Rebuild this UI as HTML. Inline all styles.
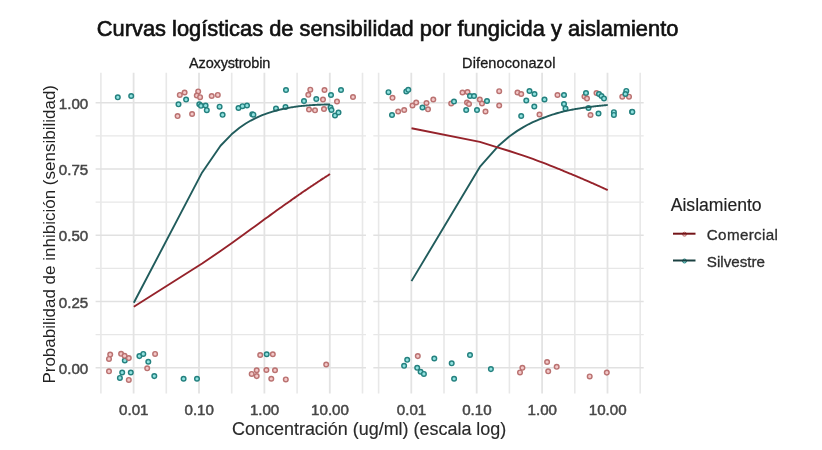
<!DOCTYPE html><html><head><meta charset="utf-8"><style>html,body{margin:0;padding:0;background:#fff;}svg{display:block;filter:blur(0.35px);}text{font-family:"Liberation Sans",Arial,sans-serif;}</style></head><body>
<svg width="822" height="450" viewBox="0 0 822 450">
<rect width="822" height="450" fill="#fff"/>
<line x1="95.6" y1="334.6" x2="366.0" y2="334.6" stroke="#E7E7E7" stroke-width="1.2"/><line x1="95.6" y1="268.4" x2="366.0" y2="268.4" stroke="#E7E7E7" stroke-width="1.2"/><line x1="95.6" y1="202.1" x2="366.0" y2="202.1" stroke="#E7E7E7" stroke-width="1.2"/><line x1="95.6" y1="135.9" x2="366.0" y2="135.9" stroke="#E7E7E7" stroke-width="1.2"/><line x1="100.9" y1="72.7" x2="100.9" y2="393.5" stroke="#E8E8E8" stroke-width="1.6"/><line x1="166.3" y1="72.7" x2="166.3" y2="393.5" stroke="#E8E8E8" stroke-width="1.6"/><line x1="231.7" y1="72.7" x2="231.7" y2="393.5" stroke="#E8E8E8" stroke-width="1.6"/><line x1="297.1" y1="72.7" x2="297.1" y2="393.5" stroke="#E8E8E8" stroke-width="1.6"/><line x1="362.5" y1="72.7" x2="362.5" y2="393.5" stroke="#E8E8E8" stroke-width="1.6"/><line x1="95.6" y1="367.7" x2="366.0" y2="367.7" stroke="#E1E1E1" stroke-width="1.5"/><line x1="95.6" y1="301.5" x2="366.0" y2="301.5" stroke="#E1E1E1" stroke-width="1.5"/><line x1="95.6" y1="235.2" x2="366.0" y2="235.2" stroke="#E1E1E1" stroke-width="1.5"/><line x1="95.6" y1="169.0" x2="366.0" y2="169.0" stroke="#E1E1E1" stroke-width="1.5"/><line x1="95.6" y1="102.8" x2="366.0" y2="102.8" stroke="#E1E1E1" stroke-width="1.5"/><line x1="133.6" y1="72.7" x2="133.6" y2="393.5" stroke="#E3E3E3" stroke-width="1.8"/><line x1="199.0" y1="72.7" x2="199.0" y2="393.5" stroke="#E3E3E3" stroke-width="1.8"/><line x1="264.4" y1="72.7" x2="264.4" y2="393.5" stroke="#E3E3E3" stroke-width="1.8"/><line x1="329.8" y1="72.7" x2="329.8" y2="393.5" stroke="#E3E3E3" stroke-width="1.8"/>
<line x1="373.3" y1="334.6" x2="643.7" y2="334.6" stroke="#E7E7E7" stroke-width="1.2"/><line x1="373.3" y1="268.4" x2="643.7" y2="268.4" stroke="#E7E7E7" stroke-width="1.2"/><line x1="373.3" y1="202.1" x2="643.7" y2="202.1" stroke="#E7E7E7" stroke-width="1.2"/><line x1="373.3" y1="135.9" x2="643.7" y2="135.9" stroke="#E7E7E7" stroke-width="1.2"/><line x1="378.6" y1="72.7" x2="378.6" y2="393.5" stroke="#E8E8E8" stroke-width="1.6"/><line x1="444.0" y1="72.7" x2="444.0" y2="393.5" stroke="#E8E8E8" stroke-width="1.6"/><line x1="509.4" y1="72.7" x2="509.4" y2="393.5" stroke="#E8E8E8" stroke-width="1.6"/><line x1="574.8" y1="72.7" x2="574.8" y2="393.5" stroke="#E8E8E8" stroke-width="1.6"/><line x1="640.2" y1="72.7" x2="640.2" y2="393.5" stroke="#E8E8E8" stroke-width="1.6"/><line x1="373.3" y1="367.7" x2="643.7" y2="367.7" stroke="#E1E1E1" stroke-width="1.5"/><line x1="373.3" y1="301.5" x2="643.7" y2="301.5" stroke="#E1E1E1" stroke-width="1.5"/><line x1="373.3" y1="235.2" x2="643.7" y2="235.2" stroke="#E1E1E1" stroke-width="1.5"/><line x1="373.3" y1="169.0" x2="643.7" y2="169.0" stroke="#E1E1E1" stroke-width="1.5"/><line x1="373.3" y1="102.8" x2="643.7" y2="102.8" stroke="#E1E1E1" stroke-width="1.5"/><line x1="411.3" y1="72.7" x2="411.3" y2="393.5" stroke="#E3E3E3" stroke-width="1.8"/><line x1="476.7" y1="72.7" x2="476.7" y2="393.5" stroke="#E3E3E3" stroke-width="1.8"/><line x1="542.1" y1="72.7" x2="542.1" y2="393.5" stroke="#E3E3E3" stroke-width="1.8"/><line x1="607.5" y1="72.7" x2="607.5" y2="393.5" stroke="#E3E3E3" stroke-width="1.8"/>
<g fill="#F3C8C8" stroke="#BA7271" stroke-width="1.45"><circle cx="179.8" cy="94.9" r="2.3"/><circle cx="184.6" cy="92.5" r="2.3"/><circle cx="198.2" cy="91.4" r="2.3"/><circle cx="196.8" cy="95.5" r="2.3"/><circle cx="200.1" cy="97.2" r="2.3"/><circle cx="211.7" cy="96" r="2.3"/><circle cx="217.8" cy="94.9" r="2.3"/><circle cx="177.6" cy="116.1" r="2.3"/><circle cx="192.1" cy="114" r="2.3"/><circle cx="310.3" cy="89.7" r="2.3"/><circle cx="308.3" cy="94.8" r="2.3"/><circle cx="309" cy="109.5" r="2.3"/><circle cx="315" cy="110.3" r="2.3"/><circle cx="324.5" cy="90" r="2.3"/><circle cx="323" cy="99.5" r="2.3"/><circle cx="324" cy="109" r="2.3"/><circle cx="337" cy="101.5" r="2.3"/><circle cx="353" cy="97" r="2.3"/><circle cx="110.2" cy="354.6" r="2.3"/><circle cx="109" cy="358.9" r="2.3"/><circle cx="121.1" cy="353.8" r="2.3"/><circle cx="109" cy="371.3" r="2.3"/><circle cx="147.2" cy="368.3" r="2.3"/><circle cx="155.1" cy="353.9" r="2.3"/><circle cx="128.8" cy="379.9" r="2.3"/><circle cx="260.2" cy="355" r="2.3"/><circle cx="256.7" cy="370.2" r="2.3"/><circle cx="251.7" cy="373.9" r="2.3"/><circle cx="256.7" cy="376.1" r="2.3"/><circle cx="266.4" cy="370" r="2.3"/><circle cx="275" cy="370.2" r="2.3"/><circle cx="271.3" cy="378.7" r="2.3"/><circle cx="285.8" cy="379.4" r="2.3"/><circle cx="326.2" cy="364.5" r="2.3"/><circle cx="392.5" cy="97.8" r="2.3"/><circle cx="398.2" cy="111.5" r="2.3"/><circle cx="404.2" cy="110" r="2.3"/><circle cx="412.5" cy="105.5" r="2.3"/><circle cx="416.2" cy="102.5" r="2.3"/><circle cx="426.5" cy="103" r="2.3"/><circle cx="428" cy="109.3" r="2.3"/><circle cx="433.3" cy="99.5" r="2.3"/><circle cx="451.2" cy="103.5" r="2.3"/><circle cx="462.5" cy="92.5" r="2.3"/><circle cx="467.5" cy="92" r="2.3"/><circle cx="467" cy="102.5" r="2.3"/><circle cx="469" cy="104" r="2.3"/><circle cx="479.8" cy="99.5" r="2.3"/><circle cx="482" cy="103.5" r="2.3"/><circle cx="485.5" cy="111.5" r="2.3"/><circle cx="499.2" cy="91.2" r="2.3"/><circle cx="499.2" cy="105.5" r="2.3"/><circle cx="517.5" cy="92.5" r="2.3"/><circle cx="521.2" cy="94" r="2.3"/><circle cx="557.5" cy="95" r="2.3"/><circle cx="539.5" cy="114.5" r="2.3"/><circle cx="584.5" cy="96.5" r="2.3"/><circle cx="596.5" cy="93" r="2.3"/><circle cx="590.5" cy="115" r="2.3"/><circle cx="622.3" cy="96.7" r="2.3"/><circle cx="629" cy="96.7" r="2.3"/><circle cx="417.8" cy="356.1" r="2.3"/><circle cx="522.4" cy="367.8" r="2.3"/><circle cx="520" cy="372.4" r="2.3"/><circle cx="547.1" cy="362" r="2.3"/><circle cx="556.7" cy="366.8" r="2.3"/><circle cx="548.2" cy="371.3" r="2.3"/><circle cx="589.7" cy="376.4" r="2.3"/><circle cx="606.8" cy="372.6" r="2.3"/></g>
<g fill="#92E2E0" stroke="#24817F" stroke-width="1.45"><circle cx="117.8" cy="97.3" r="2.3"/><circle cx="131.2" cy="96.0" r="2.3"/><circle cx="178.5" cy="104.3" r="2.3"/><circle cx="186.1" cy="99.6" r="2.3"/><circle cx="199.3" cy="104.3" r="2.3"/><circle cx="201" cy="105.8" r="2.3"/><circle cx="205.6" cy="105.5" r="2.3"/><circle cx="206.8" cy="110.2" r="2.3"/><circle cx="219.6" cy="106.7" r="2.3"/><circle cx="222.6" cy="114.8" r="2.3"/><circle cx="238.5" cy="108" r="2.3"/><circle cx="242.5" cy="106.2" r="2.3"/><circle cx="247" cy="105.5" r="2.3"/><circle cx="252.3" cy="114.2" r="2.3"/><circle cx="253.4" cy="114.7" r="2.3"/><circle cx="276" cy="108.5" r="2.3"/><circle cx="285.5" cy="107" r="2.3"/><circle cx="286" cy="90" r="2.3"/><circle cx="304" cy="101" r="2.3"/><circle cx="316.3" cy="99" r="2.3"/><circle cx="331" cy="95" r="2.3"/><circle cx="341" cy="90" r="2.3"/><circle cx="330.5" cy="107.5" r="2.3"/><circle cx="331.5" cy="110" r="2.3"/><circle cx="335" cy="115.5" r="2.3"/><circle cx="338.5" cy="112.5" r="2.3"/><circle cx="124.8" cy="360.5" r="2.3"/><circle cx="139.4" cy="356.1" r="2.3"/><circle cx="143.3" cy="353.9" r="2.3"/><circle cx="148.3" cy="361.7" r="2.3"/><circle cx="122.2" cy="372.5" r="2.3"/><circle cx="119.9" cy="377.9" r="2.3"/><circle cx="130.8" cy="372.5" r="2.3"/><circle cx="154.3" cy="376.1" r="2.3"/><circle cx="183.6" cy="378.7" r="2.3"/><circle cx="197" cy="378.7" r="2.3"/><circle cx="266.7" cy="354.2" r="2.3"/><circle cx="388.5" cy="92.2" r="2.3"/><circle cx="406.3" cy="91.4" r="2.3"/><circle cx="408.3" cy="89.8" r="2.3"/><circle cx="392" cy="115" r="2.3"/><circle cx="422.5" cy="107.5" r="2.3"/><circle cx="454" cy="101.5" r="2.3"/><circle cx="470" cy="96" r="2.3"/><circle cx="474" cy="96" r="2.3"/><circle cx="466.2" cy="110" r="2.3"/><circle cx="477" cy="110" r="2.3"/><circle cx="487" cy="101" r="2.3"/><circle cx="526.3" cy="100.5" r="2.3"/><circle cx="529.5" cy="91" r="2.3"/><circle cx="534.5" cy="94" r="2.3"/><circle cx="534.3" cy="106.5" r="2.3"/><circle cx="521.2" cy="116" r="2.3"/><circle cx="544.5" cy="99.5" r="2.3"/><circle cx="564" cy="95" r="2.3"/><circle cx="564" cy="104" r="2.3"/><circle cx="565.5" cy="108.5" r="2.3"/><circle cx="586" cy="93" r="2.3"/><circle cx="599" cy="94" r="2.3"/><circle cx="601.5" cy="96" r="2.3"/><circle cx="604" cy="98.5" r="2.3"/><circle cx="588.5" cy="108" r="2.3"/><circle cx="598.5" cy="113.5" r="2.3"/><circle cx="613.9" cy="112.2" r="2.3"/><circle cx="613.9" cy="114.9" r="2.3"/><circle cx="626.3" cy="90.9" r="2.3"/><circle cx="625.4" cy="94" r="2.3"/><circle cx="632.1" cy="111.8" r="2.3"/><circle cx="632.3" cy="111.9" r="2.3"/><circle cx="407.2" cy="359.8" r="2.3"/><circle cx="404.1" cy="365.8" r="2.3"/><circle cx="417.2" cy="367.8" r="2.3"/><circle cx="420.6" cy="371.7" r="2.3"/><circle cx="423.9" cy="373.9" r="2.3"/><circle cx="434.3" cy="358.5" r="2.3"/><circle cx="451.7" cy="363.3" r="2.3"/><circle cx="470" cy="355" r="2.3"/><circle cx="454.1" cy="378.7" r="2.3"/><circle cx="490.9" cy="369.1" r="2.3"/></g>
<g fill="#F3C8C8" stroke="#BA7271" stroke-width="1.45"><circle cx="272.8" cy="354.2" r="2.3"/><circle cx="587" cy="98.5" r="2.3"/><circle cx="128.8" cy="358.1" r="2.3"/><circle cx="124.6" cy="355.8" r="2.3"/></g>
<polyline points="133.80,302.80 202.14,172.43 220.52,145.78 231.58,134.34 239.53,127.80 245.73,123.54 250.81,120.54 255.13,118.30 258.87,116.56 262.18,115.16 265.14,114.03 267.82,113.08 270.27,112.28 272.52,111.59 274.61,110.99 276.56,110.47 278.38,110.01 280.09,109.60 281.71,109.23 283.24,108.90 284.68,108.59 286.06,108.32 287.38,108.07 288.64,107.84 289.84,107.62 290.99,107.43 292.10,107.25 293.17,107.08 294.20,106.92 295.19,106.77 296.15,106.63 297.08,106.50 297.98,106.38 298.85,106.27 299.70,106.16 300.52,106.07 301.32,105.99 302.09,105.91 302.85,105.84 303.58,105.77 304.30,105.70 305.00,105.64 305.68,105.58 306.35,105.53 307.00,105.47 307.64,105.42 308.26,105.38 308.87,105.33 309.47,105.29 310.05,105.24 310.63,105.20 311.19,105.17 311.74,105.13 312.28,105.09 312.81,105.06 313.33,105.03 313.84,105.00 314.34,104.97 314.83,104.94 315.32,104.91 315.80,104.89 316.26,104.86 316.72,104.84 317.18,104.81 317.63,104.79 318.06,104.77 318.50,104.75 318.92,104.74 319.34,104.72 319.76,104.71 320.17,104.69 320.57,104.68 320.97,104.67 321.36,104.66 321.74,104.64 322.12,104.63 322.50,104.62 322.87,104.61 323.24,104.60 323.60,104.59 323.95,104.58 324.31,104.57 324.65,104.56 325.00,104.56 325.34,104.55 325.67,104.54 326.01,104.53 326.33,104.53 326.66,104.52 326.98,104.51 327.30,104.51 327.61,104.50 327.92,104.50 328.23,104.49 328.53,104.48 328.83,104.48 329.13,104.47 329.42,104.47 329.71,104.47 330.00,104.46" fill="none" stroke="#215C5C" stroke-width="1.9" stroke-linejoin="round" stroke-linecap="butt"/>
<polyline points="133.80,306.70 202.14,263.53 220.52,251.02 231.58,243.29 239.53,237.50 245.73,232.98 250.81,229.28 255.13,226.15 258.87,223.44 262.18,221.04 265.14,218.86 267.82,216.90 270.27,215.12 272.52,213.48 274.61,211.97 276.56,210.57 278.38,209.27 280.09,208.05 281.71,206.90 283.24,205.82 284.68,204.80 286.06,203.83 287.38,202.91 288.64,202.04 289.84,201.20 290.99,200.38 292.10,199.59 293.17,198.83 294.20,198.10 295.19,197.39 296.15,196.72 297.08,196.07 297.98,195.44 298.85,194.83 299.70,194.24 300.52,193.67 301.32,193.12 302.09,192.58 302.85,192.06 303.58,191.55 304.30,191.06 305.00,190.59 305.68,190.12 306.35,189.67 307.00,189.23 307.64,188.79 308.26,188.37 308.87,187.96 309.47,187.56 310.05,187.17 310.63,186.79 311.19,186.41 311.74,186.05 312.28,185.69 312.81,185.34 313.33,184.99 313.84,184.66 314.34,184.33 314.83,184.00 315.32,183.68 315.80,183.36 316.26,183.04 316.72,182.73 317.18,182.42 317.63,182.12 318.06,181.83 318.50,181.54 318.92,181.26 319.34,180.98 319.76,180.70 320.17,180.43 320.57,180.16 320.97,179.90 321.36,179.64 321.74,179.39 322.12,179.14 322.50,178.89 322.87,178.65 323.24,178.41 323.60,178.17 323.95,177.94 324.31,177.71 324.65,177.48 325.00,177.26 325.34,177.04 325.67,176.82 326.01,176.61 326.33,176.39 326.66,176.19 326.98,175.98 327.30,175.78 327.61,175.57 327.92,175.38 328.23,175.18 328.53,174.99 328.83,174.79 329.13,174.60 329.42,174.42 329.71,174.23 330.00,174.05" fill="none" stroke="#95222A" stroke-width="1.9" stroke-linejoin="round" stroke-linecap="butt"/>
<polyline points="411.50,281.12 479.84,166.92 498.22,146.06 509.28,136.49 517.23,130.87 523.43,127.07 528.51,124.29 532.83,122.18 536.57,120.51 539.88,119.14 542.84,118.01 545.52,117.04 547.97,116.15 550.22,115.38 552.31,114.69 554.26,114.08 556.08,113.53 557.79,113.03 559.41,112.58 560.94,112.17 562.38,111.79 563.76,111.44 565.08,111.11 566.34,110.84 567.54,110.58 568.69,110.34 569.80,110.12 570.87,109.91 571.90,109.71 572.89,109.53 573.85,109.35 574.78,109.18 575.68,109.03 576.55,108.88 577.40,108.73 578.22,108.60 579.02,108.47 579.79,108.34 580.55,108.22 581.28,108.11 582.00,108.00 582.70,107.90 583.38,107.80 584.05,107.70 584.70,107.60 585.34,107.51 585.96,107.43 586.57,107.34 587.17,107.26 587.75,107.18 588.33,107.11 588.89,107.03 589.44,106.96 589.98,106.89 590.51,106.83 591.03,106.76 591.54,106.70 592.04,106.64 592.53,106.58 593.02,106.52 593.50,106.46 593.96,106.41 594.42,106.36 594.88,106.30 595.33,106.25 595.76,106.20 596.20,106.15 596.62,106.11 597.04,106.06 597.46,106.02 597.87,105.97 598.27,105.93 598.67,105.89 599.06,105.84 599.44,105.80 599.82,105.76 600.20,105.73 600.57,105.69 600.94,105.65 601.30,105.61 601.65,105.58 602.01,105.54 602.35,105.51 602.70,105.47 603.04,105.44 603.37,105.41 603.71,105.38 604.03,105.35 604.36,105.31 604.68,105.28 605.00,105.25 605.31,105.23 605.62,105.20 605.93,105.17 606.23,105.14 606.53,105.11 606.83,105.09 607.12,105.06 607.41,105.03 607.70,105.01" fill="none" stroke="#215C5C" stroke-width="1.9" stroke-linejoin="round" stroke-linecap="butt"/>
<polyline points="411.50,128.28 479.84,141.86 498.22,147.68 509.28,151.03 517.23,153.54 523.43,155.63 528.51,157.42 532.83,158.97 536.57,160.34 539.88,161.57 542.84,162.68 545.52,163.71 547.97,164.66 550.22,165.54 552.31,166.37 554.26,167.14 556.08,167.87 557.79,168.56 559.41,169.22 560.94,169.84 562.38,170.44 563.76,171.01 565.08,171.55 566.34,172.08 567.54,172.58 568.69,173.07 569.80,173.53 570.87,173.98 571.90,174.40 572.89,174.81 573.85,175.21 574.78,175.60 575.68,175.98 576.55,176.34 577.40,176.70 578.22,177.04 579.02,177.38 579.79,177.71 580.55,178.03 581.28,178.35 582.00,178.65 582.70,178.95 583.38,179.25 584.05,179.53 584.70,179.81 585.34,180.09 585.96,180.36 586.57,180.62 587.17,180.88 587.75,181.14 588.33,181.39 588.89,181.63 589.44,181.87 589.98,182.11 590.51,182.34 591.03,182.57 591.54,182.80 592.04,183.02 592.53,183.24 593.02,183.45 593.50,183.66 593.96,183.87 594.42,184.08 594.88,184.28 595.33,184.48 595.76,184.67 596.20,184.87 596.62,185.06 597.04,185.25 597.46,185.43 597.87,185.62 598.27,185.80 598.67,185.98 599.06,186.15 599.44,186.33 599.82,186.50 600.20,186.67 600.57,186.84 600.94,187.00 601.30,187.17 601.65,187.33 602.01,187.49 602.35,187.65 602.70,187.80 603.04,187.96 603.37,188.11 603.71,188.26 604.03,188.41 604.36,188.56 604.68,188.71 605.00,188.85 605.31,189.00 605.62,189.14 605.93,189.28 606.23,189.42 606.53,189.56 606.83,189.69 607.12,189.83 607.41,189.96 607.70,190.10" fill="none" stroke="#95222A" stroke-width="1.9" stroke-linejoin="round" stroke-linecap="butt"/>
<text x="133.8" y="415.2" font-size="15.1" fill="#474747" stroke="#474747" stroke-width="0.5" text-anchor="middle">0.01</text>
<text x="199.2" y="415.2" font-size="15.1" fill="#474747" stroke="#474747" stroke-width="0.5" text-anchor="middle">0.10</text>
<text x="264.6" y="415.2" font-size="15.1" fill="#474747" stroke="#474747" stroke-width="0.5" text-anchor="middle">1.00</text>
<text x="330.0" y="415.2" font-size="15.1" fill="#474747" stroke="#474747" stroke-width="0.5" text-anchor="middle">10.00</text>
<text x="411.5" y="415.2" font-size="15.1" fill="#474747" stroke="#474747" stroke-width="0.5" text-anchor="middle">0.01</text>
<text x="476.9" y="415.2" font-size="15.1" fill="#474747" stroke="#474747" stroke-width="0.5" text-anchor="middle">0.10</text>
<text x="542.3" y="415.2" font-size="15.1" fill="#474747" stroke="#474747" stroke-width="0.5" text-anchor="middle">1.00</text>
<text x="607.7" y="415.2" font-size="15.1" fill="#474747" stroke="#474747" stroke-width="0.5" text-anchor="middle">10.00</text>
<text x="88.2" y="373.8" font-size="15.1" fill="#474747" stroke="#474747" stroke-width="0.5" text-anchor="end">0.00</text>
<text x="88.2" y="307.6" font-size="15.1" fill="#474747" stroke="#474747" stroke-width="0.5" text-anchor="end">0.25</text>
<text x="88.2" y="241.3" font-size="15.1" fill="#474747" stroke="#474747" stroke-width="0.5" text-anchor="end">0.50</text>
<text x="88.2" y="175.1" font-size="15.1" fill="#474747" stroke="#474747" stroke-width="0.5" text-anchor="end">0.75</text>
<text x="88.2" y="108.9" font-size="15.1" fill="#474747" stroke="#474747" stroke-width="0.5" text-anchor="end">1.00</text>
<text x="229.6" y="68.4" font-size="14.5" letter-spacing="-0.17" fill="#1A1A1A" stroke="#1A1A1A" stroke-width="0.3" text-anchor="middle">Azoxystrobin</text>
<text x="508.8" y="68.4" font-size="14.5" letter-spacing="0.12" fill="#1A1A1A" stroke="#1A1A1A" stroke-width="0.3" text-anchor="middle">Difenoconazol</text>
<text x="96.8" y="35.5" font-size="21.85" fill="#111" stroke="#111" stroke-width="0.65">Curvas logísticas de sensibilidad por fungicida y aislamiento</text>
<text x="369.2" y="434.6" font-size="17.95" fill="#2A2A2A" stroke="#2A2A2A" stroke-width="0.15" text-anchor="middle">Concentración (ug/ml) (escala log)</text>
<text transform="translate(55.2,234.3) rotate(-90)" x="0" y="0" font-size="17.0" fill="#222" text-anchor="middle">Probabilidad de inhibición (sensibilidad)</text>
<text x="670.7" y="210.8" font-size="17.6" fill="#222" stroke="#222" stroke-width="0.15">Aislamiento</text>
<circle cx="684.5" cy="234.2" r="2.0" fill="#F3C8C8" stroke="#BA7271" stroke-width="1.0"/>
<line x1="673" y1="233.7" x2="695.5" y2="233.7" stroke="#741418" stroke-width="2"/>
<text x="706.8" y="240.4" font-size="15.2" fill="#2E2E2E" stroke="#2E2E2E" stroke-width="0.3" letter-spacing="0.35">Comercial</text>
<circle cx="684.5" cy="261.0" r="2.0" fill="#92E2E0" stroke="#24817F" stroke-width="1.0"/>
<line x1="673" y1="260.5" x2="695.5" y2="260.5" stroke="#1A4041" stroke-width="2"/>
<text x="706.8" y="267.4" font-size="15.2" fill="#2E2E2E" stroke="#2E2E2E" stroke-width="0.3" letter-spacing="0.0">Silvestre</text>
</svg></body></html>
